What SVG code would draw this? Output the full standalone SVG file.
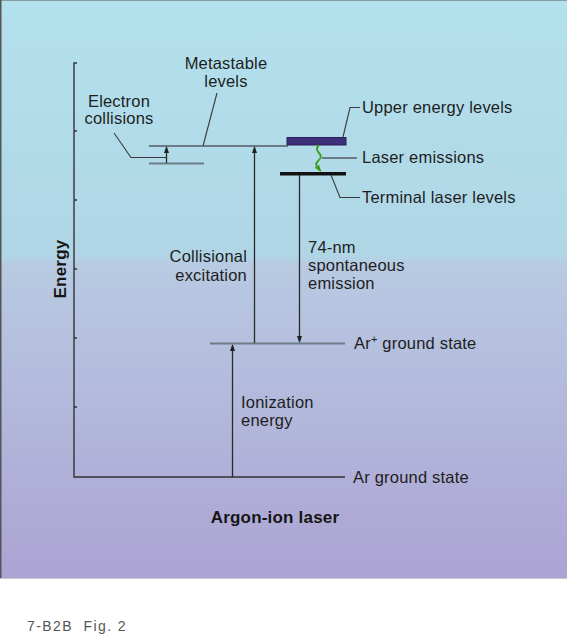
<svg xmlns="http://www.w3.org/2000/svg" width="567" height="640" viewBox="0 0 567 640">
<defs>
<linearGradient id="bg" x1="0" y1="0" x2="0" y2="1">
<stop offset="0" stop-color="#b3e1ed"/>
<stop offset="0.44" stop-color="#b0d6e6"/>
<stop offset="0.46" stop-color="#b8cae2"/>
<stop offset="1" stop-color="#aca3d3"/>
</linearGradient>
<marker id="ah" viewBox="0 0 8 8" refX="7" refY="4" markerWidth="7" markerHeight="7" orient="auto" markerUnits="userSpaceOnUse">
<path d="M0,1 L8,4 L0,7 Z" fill="#222"/>
</marker>
<marker id="ahg" viewBox="0 0 8 8" refX="7" refY="4" markerWidth="7" markerHeight="7" orient="auto" markerUnits="userSpaceOnUse">
<path d="M0,1 L8,4 L0,7 Z" fill="#3a9a1a"/>
</marker>
<style>
text{font-family:"Liberation Sans",Arial,sans-serif;font-size:16.5px;letter-spacing:0.2px;fill:#1e1e1e}
.b{font-weight:bold;font-size:17px;fill:#151515}
.lvl{stroke:#6c7c86;stroke-width:2.2;fill:none}
.ax{stroke:#333;stroke-width:1.4;fill:none}
.ld{stroke:#3a3a3a;stroke-width:1.1;fill:none}
.ar{stroke:#2a2a2a;stroke-width:1.3;fill:none;marker-end:url(#ah)}
.cap{font-size:14px;letter-spacing:1.4px;fill:#555}
</style>
</defs>
<rect x="0" y="0" width="567" height="578" fill="url(#bg)"/>
<line x1="0" y1="0.5" x2="567" y2="0.5" stroke="#8a9aa2" stroke-width="1"/>
<line x1="0.75" y1="0" x2="0.75" y2="578" stroke="#555" stroke-width="1.5"/>
<line x1="0" y1="578.5" x2="567" y2="578.5" stroke="#c8c8c8" stroke-width="1"/>

<g id="axis">
<path class="ax" d="M77,63 H74 V477 H345"/>
<path class="ax" d="M74,131 h3 M74,200 h3 M74,269 h3 M74,338 h3 M74,407 h3"/>
<text class="b" transform="translate(66,269) rotate(-90)" text-anchor="middle">Energy</text>
</g>

<g id="metastable">
<line class="lvl" x1="149" y1="146" x2="288" y2="146"/>
<line class="lvl" x1="149" y1="163.5" x2="204" y2="163.5"/>
<text x="226" y="69" text-anchor="middle">Metastable</text>
<text x="226" y="87" text-anchor="middle">levels</text>
</g>

<g id="electron-collisions">
<text x="119" y="107" text-anchor="middle">Electron</text>
<text x="119" y="124" text-anchor="middle">collisions</text>
</g>

<g id="upper">
<rect x="287" y="137.5" width="59" height="7.5" fill="#3d2f7a" stroke="#2a1f5a" stroke-width="1"/>
<text x="362" y="113">Upper energy levels</text>
</g>

<g id="laser-emissions">
<line class="lvl" x1="322" y1="158" x2="357" y2="158" stroke-width="1.8"/>
<text x="362" y="163">Laser emissions</text>
</g>

<g id="terminal">
<rect x="280" y="172" width="66" height="3.5" fill="#111"/>
<text x="362" y="203">Terminal laser levels</text>
</g>

<g id="ar-plus">
<line class="lvl" x1="210" y1="343.5" x2="345" y2="343.5"/>
<text x="354" y="349">Ar<tspan font-size="11" dy="-6">+</tspan><tspan dy="6"> ground state</tspan></text>
</g>

<g id="ar-ground">
<text x="353" y="483">Ar ground state</text>
</g>

<g id="labels">
<text x="247" y="262" text-anchor="end">Collisional</text>
<text x="247" y="281" text-anchor="end">excitation</text>
<text x="308" y="253">74-nm</text>
<text x="308" y="271">spontaneous</text>
<text x="308" y="289">emission</text>
<text x="241" y="408">Ionization</text>
<text x="241" y="426">energy</text>
<text class="b" x="275" y="523" text-anchor="middle">Argon-ion laser</text>
</g>

<g id="connectors">
<line class="ar" x1="166.5" y1="163" x2="166.5" y2="147"/>
<line class="ar" x1="254.5" y1="343" x2="254.5" y2="147"/>
<line class="ar" x1="299.5" y1="175" x2="299.5" y2="342"/>
<line class="ar" x1="232.5" y1="477" x2="232.5" y2="345"/>
<path d="M319,145 q-4,4 0,8 q4,4 -1,8 q-4,4 1,8 L320.5,171" stroke="#3a9a1a" stroke-width="1.8" fill="none" marker-end="url(#ahg)"/>
<path class="ld" d="M114,133 L131,157.5 H166"/>
<path class="ld" d="M217,93 L203,146"/>
<path class="ld" d="M360,107.5 H350 L343,137"/>
<path class="ld" d="M331,175 L340,197.5 H360"/>
</g>

<text class="cap" x="27" y="631">7-B2B&#160; Fig. 2</text>
</svg>
